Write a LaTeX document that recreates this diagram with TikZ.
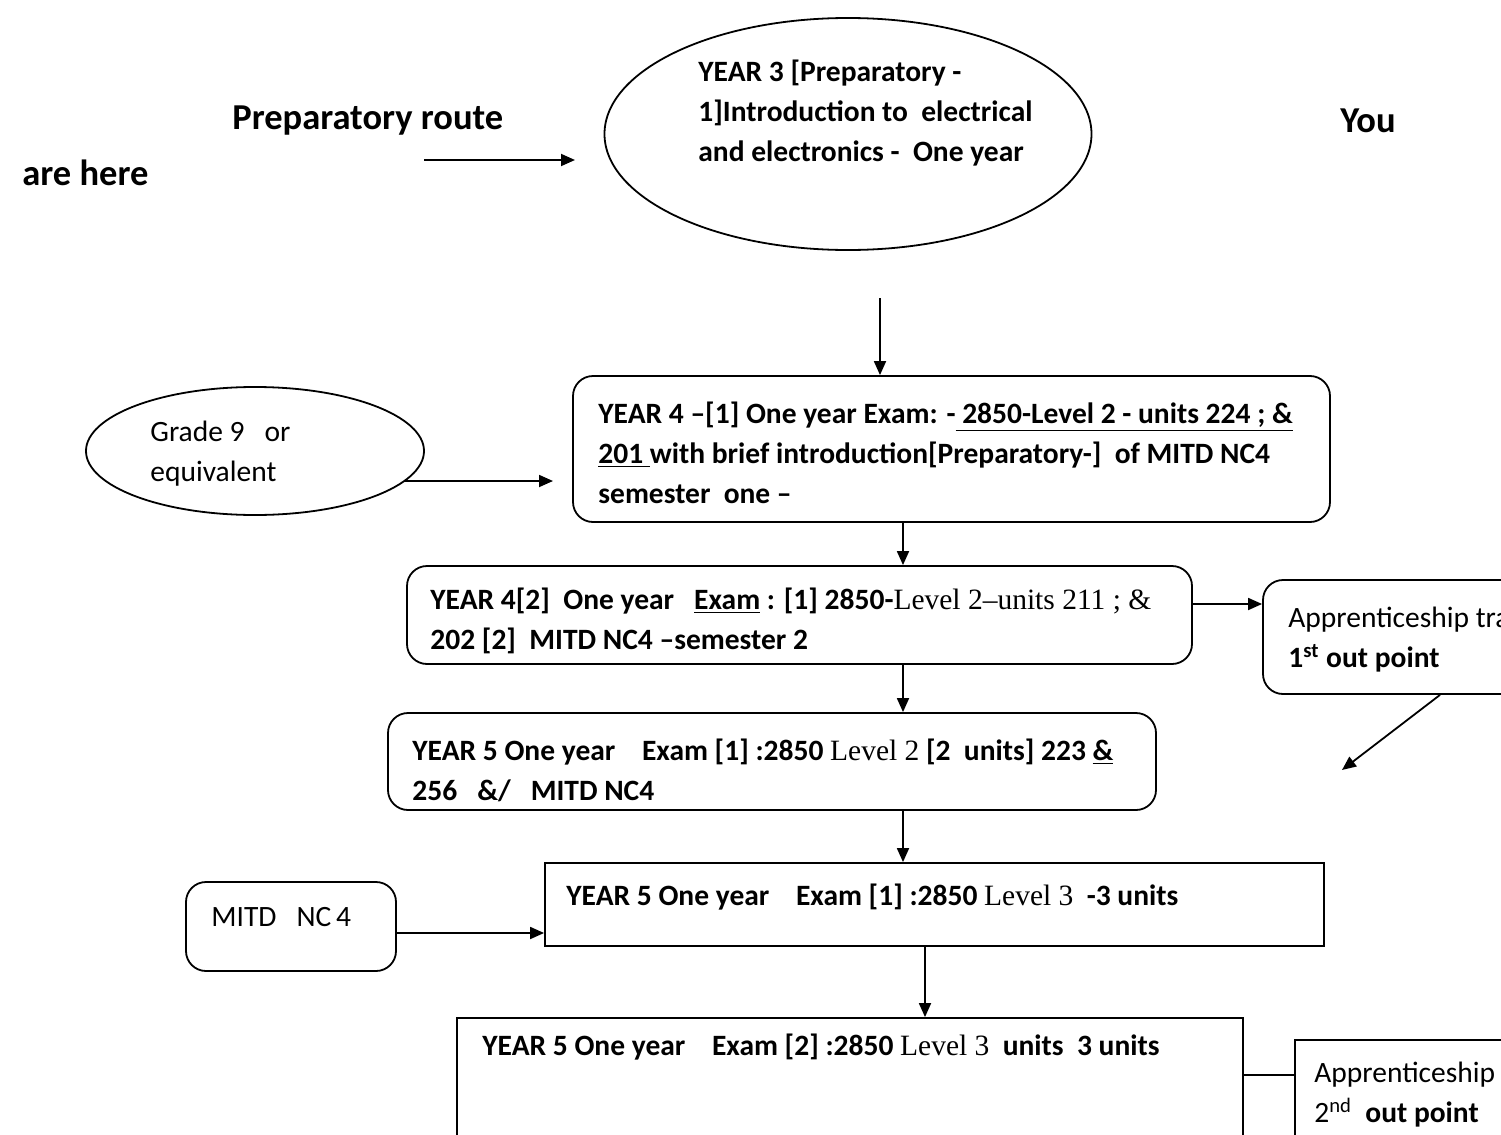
\documentclass[tikz,border=0pt]{standalone}
\usepackage{fontspec}
\setmainfont{Carlito}
\newfontfamily\srf[Ligatures=TeX]{Liberation Serif}
\usetikzlibrary{arrows.meta,shapes.geometric,fit}

\begin{document}
\begin{tikzpicture}[x=0.5pt,y=-0.5pt,
  every node/.style={font=\fontsize{14.75}{20}\selectfont},
  rbox/.style={draw,line width=0.9pt,rounded corners=10pt,inner sep=0pt},
  sbox/.style={draw,line width=0.9pt,inner sep=0pt},
  oval/.style={draw,line width=0.9pt,ellipse,inner sep=0pt},
  txt/.style={align=left,inner sep=0pt,anchor=west},
  head/.style={inner sep=0pt,font=\fontsize{18.25}{22}\selectfont\bfseries},
  arr/.style={line width=0.9pt,-{Triangle[length=7pt,width=6pt]}},
  conn/.style={line width=0.9pt}]
\useasboundingbox (0,0) rectangle (1501,1135);
\clip (0,0) rectangle (1501,1135);

% heading words
\node[head,anchor=west] (hroute) at (232,121) {Preparatory route};
\node[head,anchor=west] (hyou)   at (1340,121) {You};
\node[head,anchor=west] (hhere)  at (22,173) {are here};

% year 3 oval
\node[oval,minimum width=243.5pt,minimum height=116pt] (y3) at (848,134) {};
\node[txt,font=\fontsize{14.75}{20}\selectfont\bfseries] (y3t) at (698,113)
  {YEAR 3 [Preparatory -\\1]Introduction to\ \ electrical\\and electronics -\ \ One year};

\coordinate (pa) at (424,160);
\coordinate (pb) at (575,160);
\draw[arr] (pa) -- (pb);

% year 4, first part
\node[rbox,fit={(573,376) (1330,522)}] (b1) {};
\node[txt,font=\fontsize{14.75}{20}\selectfont\bfseries] (b1t) at (598,453)
  {YEAR 4 –[1] One year Exam: -\underline{ 2850-Level 2 - units 224 ; \&}\\
   \underline{201 }with brief introduction[Preparatory-]\ \ of MITD NC4\\
   semester\ \ one –};

\coordinate (da) at (880,298);
\draw[arr] (da) -- (da |- b1.north);

% grade 9 entry
\node[oval,minimum width=169pt,minimum height=64pt] (g9) at (255,451) {};
\node[txt] (g9t) at (150,454) {Grade 9\ \ \ or\\equivalent};
\coordinate (ga) at (405,481);
\coordinate (gb) at (553,481);
\draw[arr] (ga) -- (gb);

% year 4, second part
\node[rbox,fit={(407,566) (1192,664)}] (b2) {};
\node[txt] (b2t) at (430,621)
  {\textbf{YEAR 4[2]\ \ One year\ \ \ \underline{Exam} : [1] 2850-}{\srf Level 2–units 211 ; \&}\\
   \textbf{202 [2]\ \ MITD NC4 –semester 2}};

\coordinate (cx) at (903,0);
\coordinate (cy) at (925,0);
\draw[arr] (b1.south -| cx) -- (b2.north -| cx);

% first out point
\node[rbox,fit={(1263,580) (1540,694)}] (a1) {};
\node[txt] (a1t) at (1288,640)
  {Apprenticeship tra\\\textbf{1\textsuperscript{st} out point}};
\coordinate (ar) at (0,604);
\draw[arr] (b2.east |- ar) -- (a1.west |- ar);
\coordinate (dq) at (1440,0);
\coordinate (dz) at (1342,770);
\draw[arr] (a1.south -| dq) -- (dz);

% year 5, first part
\node[rbox,fit={(388,713) (1156,810)}] (b3) {};
\node[txt] (b3t) at (412,770)
  {\textbf{YEAR 5 One year\ \ \ \ Exam [1] :2850} {\srf Level 2} \textbf{[2\ \ units] 223 \underline{\&}}\\
   \textbf{256\ \ \ \&/\ \ \ MITD NC4}};
\draw[arr] (b2.south -| cx) -- (b3.north -| cx);

% year 5, level 3 part one
\node[sbox,fit={(545,863) (1324,946)}] (b4) {};
\node[txt] (b4t) at (566,897)
  {\textbf{YEAR 5 One year\ \ \ \ Exam [1] :2850} {\srf Level 3}\ \ \textbf{-3 units}};
\draw[arr] (b3.south -| cx) -- (b4.north -| cx);

\node[rbox,fit={(186,882) (396,971)}] (nc) {};
\node[txt] (nct) at (211,917) {MITD\ \ \ NC\,4};
\coordinate (nr) at (0,933);
\draw[arr] (nc.east |- nr) -- (b4.west |- nr);

% year 5, level 3 part two
\node[sbox,fit={(457,1018) (1243,1160)}] (b5) {};
\node[txt] (b5t) at (482,1047)
  {\textbf{YEAR 5 One year\ \ \ \ Exam [2] :2850} {\srf Level 3}\ \ \textbf{units\ \ 3 units}};
\draw[arr] (b4.south -| cy) -- (b5.north -| cy);

% second out point
\node[sbox,fit={(1295,1040) (1540,1160)}] (a2) {};
\node[txt] (a2t) at (1314,1095)
  {Apprenticeship\\2\textsuperscript{nd}\ \ \textbf{out point}};
\coordinate (lr) at (0,1075);
\draw[conn] (b5.east |- lr) -- (a2.west |- lr);
\end{tikzpicture}
\end{document}
